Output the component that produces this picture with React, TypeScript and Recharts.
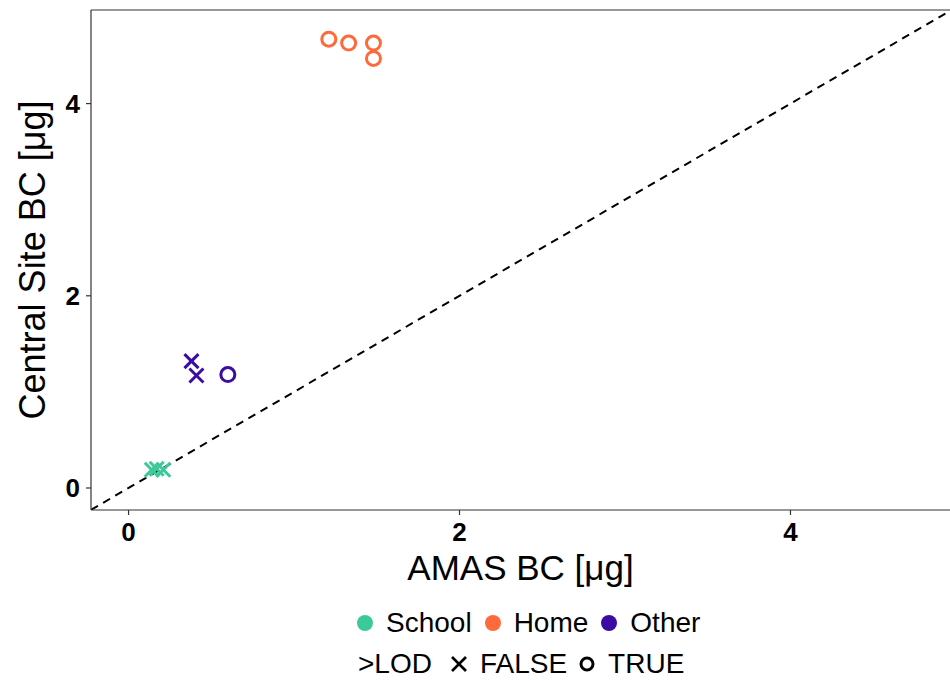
import React from 'react';
import { ScatterChart, Scatter, XAxis, YAxis, ReferenceLine } from 'recharts';

// AMAS vs central-site black carbon, by microenvironment
const schoolAmas = [0.14, 0.17, 0.21];
const schoolCentral = [0.19, 0.20, 0.19];
const schoolLod = [false, false, false];

const homeAmas = [1.21, 1.33, 1.48, 1.48];
const homeCentral = [4.67, 4.63, 4.63, 4.47];
const homeLod = [true, true, true, true];

const otherAmas = [0.38, 0.41, 0.60];
const otherCentral = [1.32, 1.17, 1.18];
const otherLod = [false, false, true];

const xTicks = [0, 2, 4];
const yTicks = [0, 2, 4];

const xDomain: [number, number] = [-0.227, 4.964];
const yDomain: [number, number] = [-0.229, 4.974];

const COLORS = { School: '#3cc99a', Home: '#ff6a3d', Other: '#3a0ca3' };
const FONT = '"Liberation Sans", Arial, Helvetica, sans-serif';

const toPoints = (xs: number[], ys: number[], lod: boolean[]) =>
  xs.map((x, i) => ({ amas: x, central: ys[i], lod: lod[i] }));

const schoolData = toPoints(schoolAmas, schoolCentral, schoolLod);
const homeData = toPoints(homeAmas, homeCentral, homeLod);
const otherData = toPoints(otherAmas, otherCentral, otherLod);

// circle for >LOD, cross otherwise
const makeShape = (color: string) => (props: any) => {
  const { cx, cy, payload } = props;
  if (payload.lod) {
    return <circle cx={cx} cy={cy} r={7} fill="none" stroke={color} strokeWidth={3} />;
  }
  const h = 7;
  return (
    <g stroke={color} strokeWidth={3}>
      <line x1={cx - h} y1={cy - h} x2={cx + h} y2={cy + h} />
      <line x1={cx - h} y1={cy + h} x2={cx + h} y2={cy - h} />
    </g>
  );
};

const YTitle = (props: any) => {
  const { viewBox } = props;
  const cy = viewBox.y + viewBox.height / 2;
  return (
    <text
      x={32}
      y={cy}
      transform={`rotate(-90, 32, ${cy})`}
      textAnchor="middle"
      dominantBaseline="central"
      fill="#000"
      fontSize={36}
      fontFamily={FONT}
    >
      Central Site BC [μg]
    </text>
  );
};

const XTitle = (props: any) => {
  const { viewBox } = props;
  const cx = viewBox.x + viewBox.width / 2;
  return (
    <text x={cx} y={567} textAnchor="middle" dominantBaseline="central" fill="#000" fontSize={35} fontFamily={FONT}>
      AMAS BC [μg]
    </text>
  );
};

const LegendBlock = () => {
  const text: React.CSSProperties = { fontFamily: FONT, fontSize: 28, color: '#000', lineHeight: '32px' };
  const row: React.CSSProperties = { display: 'flex', alignItems: 'center', position: 'absolute' };
  const dot = (c: string) => (
    <svg width={16} height={16} style={{ marginRight: 13 }}>
      <circle cx={8} cy={8} r={8} fill={c} />
    </svg>
  );
  return (
    <div style={{ position: 'absolute', left: 0, top: 595, width: 950, height: 86 }}>
      <div style={{ ...row, left: 357, top: 12 }}>
        {dot(COLORS.School)}
        <span style={{ ...text, marginRight: 13 }}>School</span>
        {dot(COLORS.Home)}
        <span style={{ ...text, marginRight: 13 }}>Home</span>
        {dot(COLORS.Other)}
        <span style={text}>Other</span>
      </div>
      <div style={{ ...row, left: 358, top: 53 }}>
        <span style={{ ...text, marginRight: 18 }}>&gt;LOD</span>
        <svg width={18} height={18} style={{ marginRight: 12 }}>
          <g stroke="#000" strokeWidth={2.6}>
            <line x1={2} y1={2} x2={16} y2={16} />
            <line x1={2} y1={16} x2={16} y2={2} />
          </g>
        </svg>
        <span style={{ ...text, marginRight: 12 }}>FALSE</span>
        <svg width={16} height={16} style={{ marginRight: 13 }}>
          <circle cx={8} cy={8} r={6} fill="none" stroke="#000" strokeWidth={3} />
        </svg>
        <span style={text}>TRUE</span>
      </div>
    </div>
  );
};

export default function App() {
  return (
    <div style={{ position: 'absolute', left: 0, top: 0, width: 950, height: 681, background: '#fff' }}>
      <ScatterChart width={950} height={681} margin={{ top: 10, right: 0, bottom: 0, left: 0 }}>
        <XAxis
          type="number"
          dataKey="amas"
          domain={xDomain}
          ticks={xTicks}
          allowDataOverflow
          height={171}
          axisLine={{ stroke: '#333', strokeWidth: 1.2 }}
          tickLine={{ stroke: '#333', strokeWidth: 1.2 }}
          tickSize={5}
          tick={{ fill: '#000', fontSize: 26, fontWeight: 'bold', fontFamily: FONT, dy: 6 }}
          label={<XTitle />}
        />
        <YAxis
          type="number"
          dataKey="central"
          domain={yDomain}
          ticks={yTicks}
          allowDataOverflow
          width={91}
          axisLine={{ stroke: '#333', strokeWidth: 1.2 }}
          tickLine={{ stroke: '#333', strokeWidth: 1.2 }}
          tickSize={5}
          tick={{ fill: '#000', fontSize: 26, fontWeight: 'bold', fontFamily: FONT, dx: -4 }}
          label={<YTitle />}
        />
        {/* panel top edge */}
        <ReferenceLine y={yDomain[1]} stroke="#333" strokeWidth={1.2} />
        {/* 1:1 line */}
        <ReferenceLine
          segment={[{ x: -0.3, y: -0.3 }, { x: 5, y: 5 }]}
          stroke="#000"
          strokeWidth={2}
          strokeDasharray="8 6"
          ifOverflow="hidden"
        />
        <Scatter name="School" data={schoolData} shape={makeShape(COLORS.School)} isAnimationActive={false} />
        <Scatter name="Home" data={homeData} shape={makeShape(COLORS.Home)} isAnimationActive={false} />
        <Scatter name="Other" data={otherData} shape={makeShape(COLORS.Other)} isAnimationActive={false} />
      </ScatterChart>
      <LegendBlock />
    </div>
  );
}
